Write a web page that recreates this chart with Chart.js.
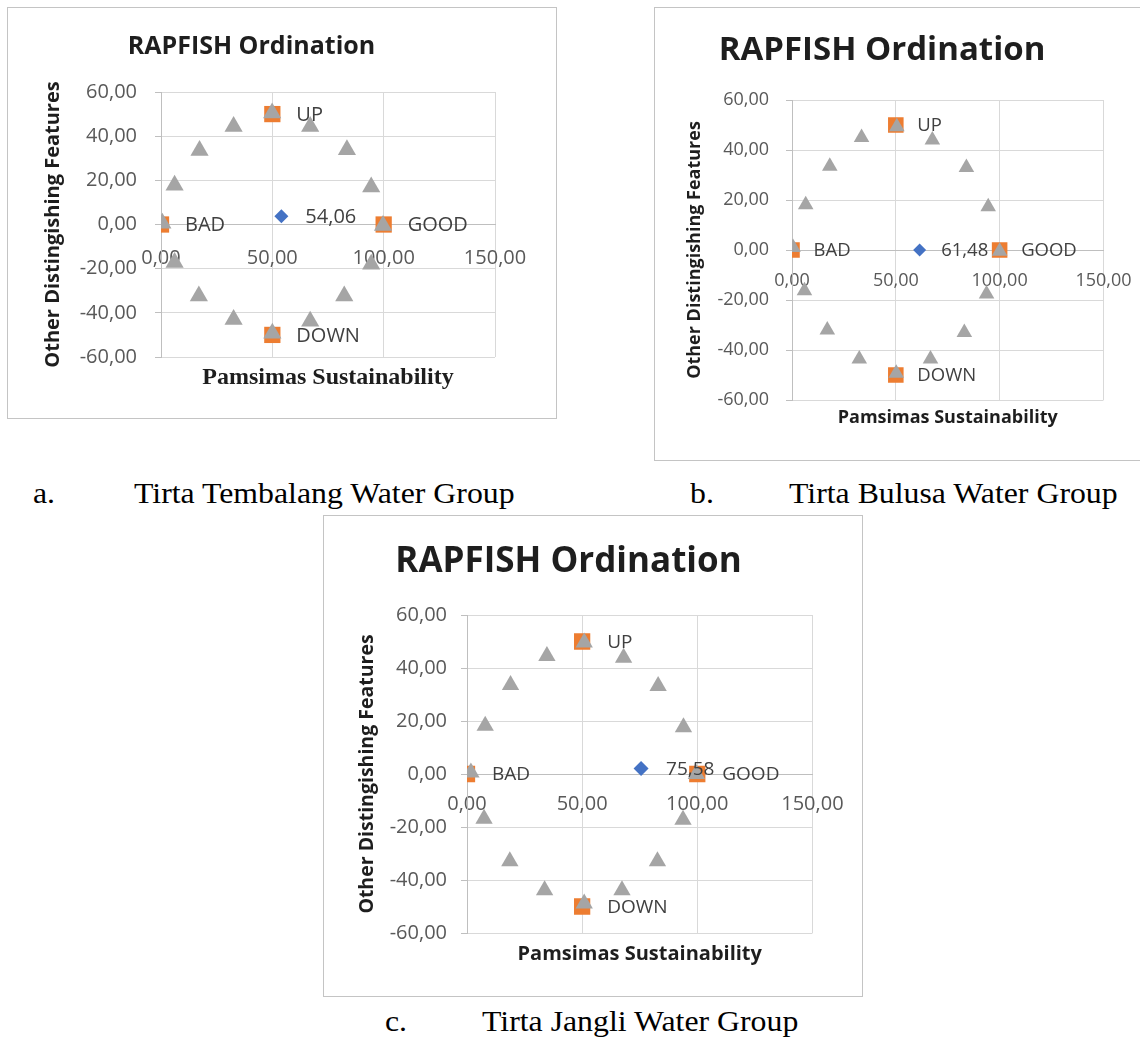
<!DOCTYPE html>
<html lang="en">
<head>
<meta charset="UTF-8">
<title>RAPFISH Ordination</title>
<script src="https://cdn.jsdelivr.net/npm/chart.js"></script>
<style>
  body { margin: 0; width: 1140px; height: 1037px; background: #fff; position: relative; overflow: hidden; }
  .box { position: absolute; border: 1px solid #c4c4c4; box-sizing: border-box; background: #fff; }
  .box canvas { position: absolute; left: 0; top: 0; }
  .cap { position: absolute; font-family: 'Liberation Serif', serif; font-size: 30px; line-height: 1; color: #000;
         white-space: nowrap; transform: scaleX(1.06); transform-origin: 0 0; }
</style>
</head>
<body>

<div class="box" style="left:7px; top:7px; width:550px; height:412px;">
  <canvas id="tembalang" width="548" height="410"></canvas>
</div>
<div class="box" style="left:654px; top:7px; width:499px; height:454px;">
  <canvas id="bulusa" width="497" height="452"></canvas>
</div>
<div class="box" style="left:323px; top:515px; width:540px; height:482px;">
  <canvas id="jangli" width="538" height="480"></canvas>
</div>

<div class="cap" style="left:33px; top:478px;">a.</div>
<div class="cap" style="left:134px; top:478px;">Tirta Tembalang Water Group</div>
<div class="cap" style="left:690px; top:478px;">b.</div>
<div class="cap" style="left:789px; top:478px;">Tirta Bulusa Water Group</div>
<div class="cap" style="left:385px; top:1006px;">c.</div>
<div class="cap" style="left:482px; top:1006px;">Tirta Jangli Water Group</div>

<script>
    const xTickValues = [0, 50, 100, 150]
    const yTickValues = [-60, -40, -20, 0, 20, 40, 60]

    // anchors, same for the three groups
    const anchorLabels = ['BAD', 'GOOD', 'UP', 'DOWN']
    const anchorX = [0, 100, 50, 50]
    const anchorY = [0, 0, 50, -50]

    // a. Tirta Tembalang
    const refXTembalang = [0.6, 6.1, 17.3, 32.6, 49.9, 67, 83.5, 94.4, 99.7, 94.4, 82.3, 67, 50, 32.6, 17, 6.1]
    const refYTembalang = [0.6, 17.8, 33.5, 44.4, 50.5, 44.4, 33.8, 17, -0.5, -18, -32.4, -43.8, -49.2, -43, -32.4, -17.2]
    const scoreXTembalang = [54.06]
    const scoreYTembalang = [3.7]

    // b. Tirta Bulusa
    const refXBulusa = [0.5, 6.6, 18.2, 33.5, 50.5, 67.6, 84, 94.5, 100, 93.7, 83, 66.7, 50.2, 32.4, 17, 6]
    const refYBulusa = [1, 18.1, 33.5, 45, 49.3, 44, 33, 17.3, -0.5, -17.6, -33, -43.6, -49.3, -43.6, -32, -16.3]
    const scoreXBulusa = [61.48]
    const scoreYBulusa = [0]

    // c. Tirta Jangli
    const refXJangli = [1.7, 7.9, 18.9, 34.7, 50.9, 68, 83, 94, 99.6, 93.8, 82.7, 67.3, 50.9, 33.7, 18.6, 7.4]
    const refYJangli = [0.6, 18.2, 33.6, 44.5, 49.6, 43.9, 33.2, 17.6, 0, -17.3, -32.9, -43.9, -48.9, -43.9, -32.9, -16.9]
    const scoreXJangli = [75.58]
    const scoreYJangli = [2.1]

    const sans = "'Open Sans', sans-serif"

    function virgula(v) {
        return Number(v).toFixed(2).replace('.', ',')
    }

    function pares(xs, ys) {
        return xs.map(function (x, i) { return { x: x, y: ys[i] } })
    }

    // writes UP / BAD / GOOD / DOWN and the score to the right of the points
    const rotulos = {
        id: 'rotulos',
        afterDatasetsDraw(chart, args, opts) {
            const ctx = chart.ctx
            ctx.save()
            ctx.font = opts.size + 'px ' + sans
            ctx.fillStyle = '#404040'
            ctx.textBaseline = 'middle'
            ctx.textAlign = 'left'
            chart.data.datasets.forEach(function (ds, i) {
                if (!ds.rotulos) return
                chart.getDatasetMeta(i).data.forEach(function (pt, j) {
                    ctx.fillText(ds.rotulos[j], pt.x + opts.offset, pt.y + 1)
                })
            })
            ctx.restore()
        }
    }

    function ordination(id, refX, refY, scoreX, scoreY, s) {
        new Chart(document.getElementById(id), {
            type: 'scatter',
            data: {
                datasets: [
                    {
                        label: 'Score',
                        data: pares(scoreX, scoreY),
                        pointStyle: 'rectRot',
                        pointRadius: s.diamond,
                        pointBackgroundColor: '#4472C4',
                        pointBorderWidth: 0,
                        rotulos: scoreX.map(virgula)
                    },
                    {
                        label: 'Reference',
                        data: pares(refX, refY),
                        pointStyle: 'triangle',
                        pointRadius: s.tri,
                        pointBackgroundColor: '#A5A5A5',
                        pointBorderWidth: 0
                    },
                    {
                        label: 'Anchors',
                        data: pares(anchorX, anchorY),
                        pointStyle: 'rect',
                        pointRadius: s.square,
                        pointBackgroundColor: '#ED7D31',
                        pointBorderWidth: 0,
                        rotulos: anchorLabels
                    }
                ]
            },
            options: {
                responsive: false,
                animation: false,
                events: [],
                layout: { padding: { left: 0, right: s.right, top: 0, bottom: 0 } },
                plugins: {
                    legend: { display: false },
                    tooltip: { enabled: false },
                    title: {
                        display: true,
                        text: 'RAPFISH Ordination',
                        color: '#1e1e1e',
                        font: { family: sans, size: s.titleSize, weight: 'bold' },
                        padding: { top: s.titleTop, bottom: s.titleBottom }
                    },
                    subtitle: {
                        display: true,
                        position: 'bottom',
                        fullSize: false,
                        text: 'Pamsimas Sustainability',
                        color: '#1e1e1e',
                        font: { family: s.xTitleFamily, size: s.xTitleSize, weight: 'bold' },
                        padding: { top: s.xTitleTop, bottom: s.xTitleBottom }
                    },
                    rotulos: { size: s.labelSize, offset: s.labelOffset }
                },
                scales: {
                    x: {
                        type: 'linear',
                        position: { y: 0 },
                        min: 0,
                        max: 150,
                        afterBuildTicks: function (sc) { sc.ticks = xTickValues.map(function (v) { return { value: v } }) },
                        grid: { color: '#d9d9d9', drawTicks: false },
                        border: { color: '#bfbfbf' },
                        ticks: {
                            padding: s.xPad,
                            color: '#595959',
                            font: { family: sans, size: s.tickSize },
                            maxRotation: 0,
                            autoSkip: false,
                            callback: virgula
                        }
                    },
                    y: {
                        type: 'linear',
                        min: -60,
                        max: 60,
                        afterBuildTicks: function (sc) { sc.ticks = yTickValues.map(function (v) { return { value: v } }) },
                        afterFit: function (sc) { sc.width = s.yWidth },
                        grid: { color: '#d9d9d9', tickLength: 6, tickColor: '#bfbfbf' },
                        border: { color: '#bfbfbf' },
                        title: {
                            display: true,
                            text: 'Other Distingishing Features',
                            color: '#1e1e1e',
                            font: { family: sans, size: s.yTitleSize, weight: 'bold' },
                            padding: { top: s.yTitlePad, bottom: 0 }
                        },
                        ticks: {
                            padding: s.yPad,
                            color: '#595959',
                            font: { family: sans, size: s.tickSize },
                            callback: virgula
                        }
                    }
                }
            },
            plugins: [rotulos]
        })
    }

    ordination('tembalang', refXTembalang, refYTembalang, scoreXTembalang, scoreYTembalang, {
        right: 61, yWidth: 153,
        titleSize: 25, titleTop: 24, titleBottom: 30,
        yTitleSize: 20, yTitlePad: 33,
        tickSize: 20, yPad: 18, xPad: 21.4,
        xTitleFamily: "'Liberation Serif', serif", xTitleSize: 24, xTitleTop: 6, xTitleBottom: 26.2,
        labelSize: 20, labelOffset: 24,
        tri: 10.5, square: 11.5, diamond: 7
    })

    ordination('bulusa', refXBulusa, refYBulusa, scoreXBulusa, scoreYBulusa, {
        right: 43, yWidth: 137,
        titleSize: 33, titleTop: 22.5, titleBottom: 29.9,
        yTitleSize: 18, yTitlePad: 29.2,
        tickSize: 18, yPad: 17, xPad: 20.5,
        xTitleFamily: sans, xTitleSize: 18, xTitleTop: 7.5, xTitleBottom: 30.9,
        labelSize: 18.5, labelOffset: 21.5,
        tri: 9, square: 11, diamond: 6.5
    })

    ordination('jangli', refXJangli, refYJangli, scoreXJangli, scoreYJangli, {
        right: 49, yWidth: 143,
        titleSize: 35, titleTop: 25.5, titleBottom: 31.5,
        yTitleSize: 19.5, yTitlePad: 31.3,
        tickSize: 20, yPad: 14, xPad: 18.4,
        xTitleFamily: sans, xTitleSize: 20, xTitleTop: 9.4, xTitleBottom: 29.6,
        labelSize: 19, labelOffset: 25,
        tri: 10, square: 11.5, diamond: 7.5
    })
</script>
</body>
</html>
